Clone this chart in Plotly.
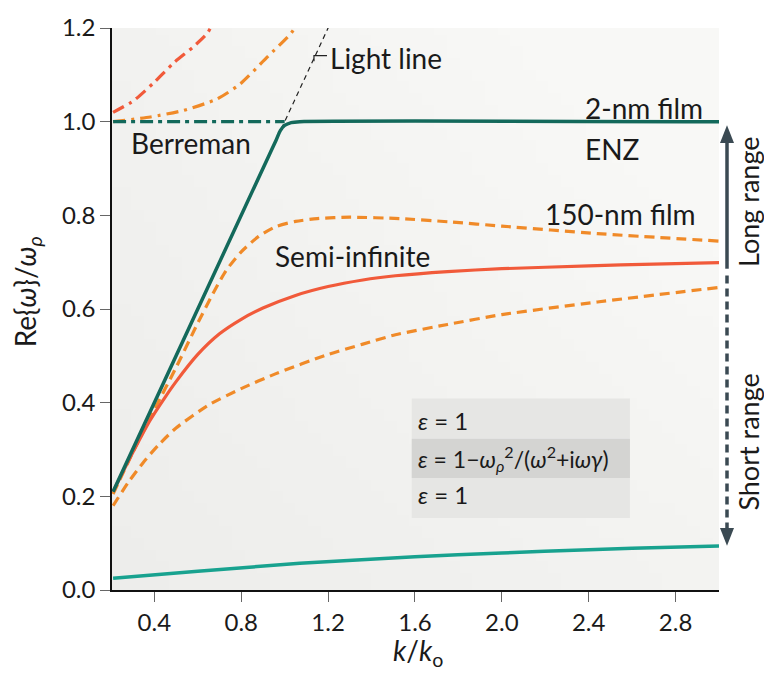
import base64
import struct
import zlib

import plotly.graph_objects as go

# ---------------- data ----------------
k_2nm = [0.21, 0.93, 0.96, 0.98, 1.0, 1.03, 1.07, 3.0]
w_2nm = [0.21, 0.93, 0.96, 0.981, 0.992, 0.998, 1.0, 1.0]

k_berreman = [0.21, 1.0]
w_berreman = [1.0, 1.0]

k_light = [0.985, 1.25]
w_light = [0.985, 1.25]

k_bulk_red = [0.21, 0.305, 0.397, 0.488, 0.58, 0.644, 0.67]
w_bulk_red = [1.02, 1.045, 1.083, 1.125, 1.16, 1.189, 1.21]

k_bulk_or = [0.21, 0.382, 0.534, 0.687, 0.794, 0.916, 1.03, 1.06]
w_bulk_or = [1.0, 1.01, 1.024, 1.048, 1.08, 1.136, 1.189, 1.21]

k_semi = [0.21, 0.3, 0.38, 0.45, 0.5, 0.6, 0.7, 0.8, 0.9, 1.05, 1.2, 1.36, 1.51, 1.75, 2.0, 2.4, 2.7, 3.0]
w_semi = [0.21, 0.293, 0.362, 0.412, 0.445, 0.503, 0.547, 0.578, 0.602, 0.629, 0.648, 0.662, 0.671, 0.68, 0.686, 0.692, 0.696, 0.699]

k_150_up = [0.21, 0.3, 0.4, 0.5, 0.6, 0.67, 0.73, 0.8, 0.88, 0.96, 1.05, 1.15, 1.3, 1.53, 1.76, 2.0, 2.44, 3.0]
w_150_up = [0.205, 0.293, 0.385, 0.475, 0.57, 0.633, 0.682, 0.722, 0.755, 0.776, 0.787, 0.793, 0.796, 0.793, 0.786, 0.777, 0.761, 0.745]

k_150_lo = [0.21, 0.28, 0.35, 0.42, 0.5, 0.65, 0.8, 0.96, 1.2, 1.36, 1.51, 1.75, 2.0, 2.44, 3.0]
w_150_lo = [0.18, 0.23, 0.273, 0.31, 0.346, 0.395, 0.43, 0.462, 0.503, 0.525, 0.545, 0.567, 0.588, 0.615, 0.646]

k_teal = [0.21, 0.6, 1.07, 1.6, 2.0, 2.4, 2.6, 3.0]
w_teal = [0.025, 0.04, 0.057, 0.071, 0.079, 0.086, 0.089, 0.094]

x_ticks = [0.4, 0.8, 1.2, 1.6, 2.0, 2.4, 2.8]
x_ticklabels = ["0.4", "0.8", "1.2", "1.6", "2.0", "2.4", "2.8"]
y_ticks = [0.0, 0.2, 0.4, 0.6, 0.8, 1.0, 1.2]
y_ticklabels = ["0.0", "0.2", "0.4", "0.6", "0.8", "1.0", "1.2"]

# ---------------- style ----------------
FONT = "Lato, 'Noto Sans', 'DejaVu Sans', sans-serif"
DKGREEN = "#13695b"
RED = "#f15a3a"
ORANGE = "#f08a28"
TEAL = "#18a28f"
ARROW = "#3b4a53"
TXT = "#1a1a1a"

W, H = 764, 673
L, R, T, B = 112, 45, 18, 83
XR = [0.205, 3.0]
YR = [0.0, 1.2]
PW, PH = W - L - R, H - T - B


def px2paper(px, py):
    return (px - L) / PW, (H - B - py) / PH


# soft background shading of the plot area (pure-python PNG)
def gradient_png(n=48):
    rows = []
    for j in range(n):
        fy = 1 - j / (n - 1)
        row = bytearray()
        for i in range(n):
            fx = i / (n - 1)
            t = min(1.0, 0.55 * fx + 0.45 * fy + 0.25 * fx * fy)
            v = int(round(237 + 11 * t))
            row += bytes((v, v, max(0, v - 2)))
        rows.append(row)
    raw = b"".join(b"\x00" + bytes(r) for r in rows)

    def chunk(tag, data):
        c = struct.pack(">I", len(data)) + tag + data
        return c + struct.pack(">I", zlib.crc32(tag + data) & 0xFFFFFFFF)

    png = (b"\x89PNG\r\n\x1a\n" + chunk(b"IHDR", struct.pack(">IIBBBBB", n, n, 8, 2, 0, 0, 0))
           + chunk(b"IDAT", zlib.compress(raw, 9)) + chunk(b"IEND", b""))
    return "data:image/png;base64," + base64.b64encode(png).decode()


fig = go.Figure()


def line(x, y, color, width, dash="solid", shape="spline", smoothing=0.6):
    fig.add_trace(go.Scatter(x=x, y=y, mode="lines", hoverinfo="skip",
                             line=dict(color=color, width=width, dash=dash,
                                       shape=shape, smoothing=smoothing),
                             showlegend=False))


line(k_teal, w_teal, TEAL, 3.5)
line(k_150_lo, w_150_lo, ORANGE, 3.2, "10px,6px")
line(k_150_up, w_150_up, ORANGE, 3.2, "10px,6px")
line(k_semi, w_semi, RED, 3.2)
line(k_bulk_red, w_bulk_red, RED, 3.2, "12px,6px,3px,6px")
line(k_bulk_or, w_bulk_or, ORANGE, 3.2, "12px,6px,3px,6px")
line(k_berreman, w_berreman, DKGREEN, 3.2, "13px,5px,4px,5px", "linear")
line(k_light, w_light, "#222222", 1.2, "5px,4px", "linear")
line(k_2nm, w_2nm, DKGREEN, 3.5)

# leader for "Light line"
line([1.135, 1.135, 1.195], [1.129, 1.141, 1.141], "#222222", 1.2, "solid", "linear")

shapes = []
# epsilon layer box
shapes.append(dict(type="rect", xref="x", yref="y", x0=1.585, x1=2.59, y0=0.323, y1=0.409,
                   fillcolor="#e6e6e4", line=dict(width=0), layer="below"))
shapes.append(dict(type="rect", xref="x", yref="y", x0=1.585, x1=2.59, y0=0.239, y1=0.323,
                   fillcolor="#d4d4d2", line=dict(width=0), layer="below"))
shapes.append(dict(type="rect", xref="x", yref="y", x0=1.585, x1=2.59, y0=0.154, y1=0.239,
                   fillcolor="#e6e6e4", line=dict(width=0), layer="below"))

# right-hand range arrows
ax_px = 727
x0p, _ = px2paper(ax_px, 0)
_, ya = px2paper(0, 133)
_, yb = px2paper(0, 263)
shapes.append(dict(type="line", xref="paper", yref="paper", x0=x0p, x1=x0p, y0=ya, y1=yb,
                   line=dict(color=ARROW, width=3.5)))
_, yc = px2paper(0, 270)
_, yd = px2paper(0, 532)
shapes.append(dict(type="line", xref="paper", yref="paper", x0=x0p, x1=x0p, y0=yc, y1=yd,
                   line=dict(color=ARROW, width=3.5, dash="8px,5px")))


def tri(tipy, basey, half=7):
    a = px2paper(ax_px, tipy)
    b = px2paper(ax_px - half, basey)
    c = px2paper(ax_px + half, basey)
    return f"M {a[0]},{a[1]} L {b[0]},{b[1]} L {c[0]},{c[1]} Z"


shapes.append(dict(type="path", xref="paper", yref="paper", path=tri(117, 135),
                   fillcolor=ARROW, line=dict(width=0)))
shapes.append(dict(type="path", xref="paper", yref="paper", path=tri(545, 527),
                   fillcolor=ARROW, line=dict(width=0)))

ann = []


def text(x, y, s, size=28, xanchor="left", yanchor="middle", xref="x", yref="y", angle=0):
    ann.append(dict(x=x, y=y, xref=xref, yref=yref, text=s, showarrow=False,
                    xanchor=xanchor, yanchor=yanchor, textangle=angle,
                    font=dict(family=FONT, size=size, color=TXT)))


text(1.199, 1.135, "Light line")
text(0.283, 0.954, "Berreman")
text(2.373, 1.03, "2-nm film")
text(2.373, 0.942, "ENZ")
text(2.189, 0.803, "150-nm film")
text(0.946, 0.713, "Semi-infinite")

text(1.607, 0.363, "<i>ε</i> = 1", size=24)
text(1.607, 0.281, "<i>ε</i> = 1−<i>ω</i><sub><i>ρ</i></sub><sup>2</sup>/(<i>ω</i><sup>2</sup>+i<i>ωγ</i>)", size=23)
text(1.607, 0.203, "<i>ε</i> = 1", size=24)

px, py = px2paper(749, 195)
text(px, py, "Long range", xref="paper", yref="paper", xanchor="center", angle=-90, size=27)
px, py = px2paper(749, 440)
text(px, py, "Short range", xref="paper", yref="paper", xanchor="center", angle=-90, size=27)

px, py = px2paper(27, 287)
text(px, py, "Re{<i>ω</i>}/<i>ω</i><sub><i>ρ</i></sub>", xref="paper", yref="paper",
     xanchor="center", angle=-90, size=28)
px, py = px2paper(418, 653)
text(px, py, "<i>k</i>/<i>k</i><sub>o</sub>", xref="paper", yref="paper",
     xanchor="center", size=28)

axis_common = dict(showgrid=False, zeroline=False, showline=True, linecolor="#111111",
                   linewidth=1.5, ticks="outside", ticklen=10, tickwidth=1.2,
                   tickcolor="#666666", tickfont=dict(family=FONT, size=24, color=TXT),
                   mirror=False)

fig.update_layout(
    width=W, height=H,
    margin=dict(l=L, r=R, t=T, b=B),
    paper_bgcolor="white",
    plot_bgcolor="#f2f2f0",
    xaxis=dict(range=XR, tickvals=x_ticks, ticktext=x_ticklabels, **axis_common),
    yaxis=dict(range=YR, tickvals=y_ticks, ticktext=y_ticklabels, **axis_common),
    images=[dict(source=gradient_png(), xref="paper", yref="paper", x=0, y=1,
                 sizex=1, sizey=1, sizing="stretch", layer="below")],
    shapes=shapes,
    annotations=ann,
)

fig.write_html("out.html", config={"displayModeBar": False},
               post_script="document.body.style.margin='0';document.body.style.padding='0';")
